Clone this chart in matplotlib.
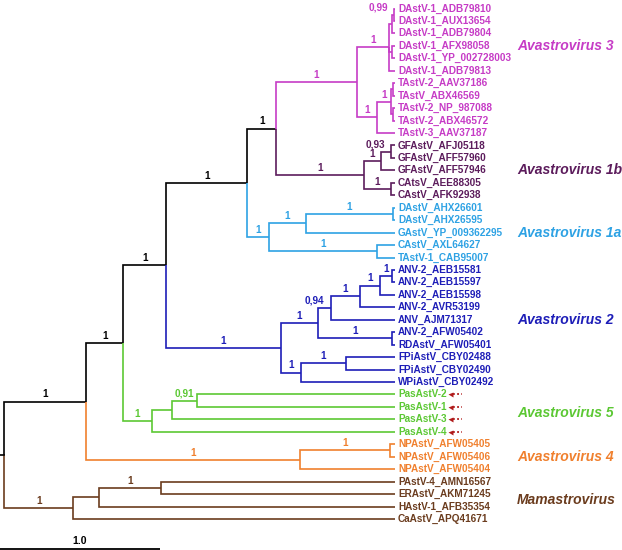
import matplotlib
matplotlib.use("Agg")
import matplotlib.pyplot as plt

plt.rcParams["font.family"] = ["Liberation Sans", "DejaVu Sans"]

# ── tree data (newick, branch lengths in substitutions/site, support as node label) ──
AVA3 = ("((((DAstV-1_ADB79810:0.0084,DAstV-1_AUX13654:0.0084)0.99:0.0076,"
        "DAstV-1_ADB79804:0.016):0.022,(DAstV-1_AFX98058:0.016,"
        "DAstV-1_YP_002728003:0.016):0.022,DAstV-1_ADB79813:0.038)1:0.2,"
        "(((TAstV-2_AAV37186:0.01,TAstV_ABX46569:0.01):0.015,"
        "(TAstV-2_NP_987088:0.01,TAstV-2_ABX46572:0.01):0.015)1:0.09,"
        "TAstV-3_AAV37187:0.115)1:0.123)1:0.506")
AVA1B = ("(((GFAstV_AFJ05118:0.025,GFAstV_AFF57960:0.025)0.93:0.063,"
         "GFAstV_AFF57946:0.088)1:0.106,(CAtsV_AEE88305:0.025,"
         "CAstV_AFK92938:0.025)1:0.169)1:0.55")
AVA1A = ("(((DAstV_AHX26601:0.011,DAstV_AHX26595:0.011)1:0.547,"
         "GAstV_YP_009362295:0.558)1:0.228,(CAstV_AXL64627:0.115,"
         "TAstV-1_CAB95007:0.115)1:0.671)1:0.137")
AVA2 = ("((((((ANV-2_AEB15581:0.021,ANV-2_AEB15597:0.021)1:0.073,"
        "ANV-2_AEB15598:0.094)1:0.125,ANV-2_AVR53199:0.219)1:0.183,"
        "ANV_AJM71317:0.402)0.94:0.081,(ANV-2_AFW05402:0.021,"
        "RDAstV_AFW05401:0.021)1:0.462)1:0.23,((FPiAstV_CBY02488:0.308,"
        "FPiAstV_CBY02490:0.308)1:0.28,WPiAstV_CBY02492:0.588)1:0.125)1:0.7185")
AVA5 = ("(((PasAstV-2:1.236,PasAstV-1:1.236)0.91:0.16,PasAstV-3:1.396):0.125,"
        "PasAstV-4:1.521)1:0.1775")
AVA4 = ("((NPAstV_AFW05405:0.0315,NPAstV_AFW05406:0.0315)1:0.5625,"
        "NPAstV_AFW05404:0.594)1:1.3375")
MAMA = ("(((PAstV-4_AMN16567:1.465,ERAstV_AKM71245:1.465)1:0.385,"
        "HAstV-1_AFB35354:1.85):0.161,CaAstV_APQ41671:2.011)1:0.433")

TREE = (f"(((((({AVA3},{AVA1B})1:0.1794,{AVA1A})1:0.5081,{AVA2})1:0.2669,"
        f"{AVA5})1:0.2331,{AVA4})1:0.5125,{MAMA});")

# clades, in leaf order
CLADE_NAMES = ["Avastrovirus 3", "Avastrovirus 1b", "Avastrovirus 1a",
               "Avastrovirus 2", "Avastrovirus 5", "Avastrovirus 4", "Mamastrovirus"]
CLADE_SIZES = [11, 5, 5, 10, 4, 3, 4]
CLADE_COLORS = ["#c63cc6", "#5c1c5c", "#2ea2e4", "#1e1eb8",
                "#5cc834", "#f0802e", "#6b3c1e"]
# leaves next to which the clade name sits
CLADE_LABEL_AT = [("DAstV-1_AFX98058", "DAstV-1_AFX98058"),
                  ("GFAstV_AFF57946", "GFAstV_AFF57946"),
                  ("GAstV_YP_009362295", "GAstV_YP_009362295"),
                  ("ANV_AJM71317", "ANV_AJM71317"),
                  ("PasAstV-1", "PasAstV-3"),
                  ("NPAstV_AFW05406", "NPAstV_AFW05406"),
                  ("ERAstV_AKM71245", "HAstV-1_AFB35354")]
MARKED = ["PasAstV-2", "PasAstV-1", "PasAstV-3", "PasAstV-4"]
ARROW_COLOR = "#b01a1a"
SCALE_LEN = 1.0

# ── layout constants (pixels) ──
W, H = 622, 550
PX = 160.0       # pixels per unit branch length
X0 = 4.0         # root x
Y0, DY = 8.5, 12.45


def parse_newick(s):
    pos = 0

    def node():
        nonlocal pos
        children = []
        if s[pos] == "(":
            pos += 1
            children.append(node())
            while s[pos] == ",":
                pos += 1
                children.append(node())
            pos += 1
        start = pos
        while s[pos] not in ":,);":
            pos += 1
        label = s[start:pos]
        length = 0.0
        if s[pos] == ":":
            pos += 1
            start = pos
            while s[pos] not in ",);":
                pos += 1
            length = float(s[start:pos])
        return {"label": label, "length": length, "children": children}

    return node()


root = parse_newick(TREE)
leaves = []


def place(nd, x0):
    nd["x"] = x0 + nd["length"]
    if not nd["children"]:
        nd["y"] = len(leaves)
        nd["span"] = (len(leaves), len(leaves))
        leaves.append(nd)
        return
    for c in nd["children"]:
        place(c, nd["x"])
    kids = nd["children"]
    nd["y"] = (kids[0]["y"] + kids[-1]["y"]) / 2
    nd["span"] = (kids[0]["span"][0], kids[-1]["span"][1])


place(root, 0.0)

starts = [sum(CLADE_SIZES[:k]) for k in range(len(CLADE_SIZES))]


def color_of(nd):
    a, b = nd["span"]
    for s0, n, c in zip(starts, CLADE_SIZES, CLADE_COLORS):
        if s0 <= a and b < s0 + n:
            return c
    return "black"


fig = plt.figure(figsize=(W / 100, H / 100), dpi=100)
ax = fig.add_axes([0, 0, 1, 1])
ax.set_xlim(-X0 / PX, (W - X0) / PX)
ax.set_ylim((H - Y0) / DY, -Y0 / DY)
ax.axis("off")
renderer = fig.canvas.get_renderer()

LW = 1.2
edges = []


def walk(nd):
    for c in nd["children"]:
        edges.append((nd, c))
        walk(c)


walk(root)

for par, ch in edges:
    col = color_of(ch)
    ax.plot([par["x"], par["x"], ch["x"]], [par["y"], ch["y"], ch["y"]],
            color=col, lw=LW, solid_joinstyle="miter", solid_capstyle="butt")

ax.plot([-X0 / PX, 0], [root["y"]] * 2, color="black", lw=LW)

# support values above branches
for par, ch in edges:
    if not ch["children"] or not ch["label"]:
        continue
    txt = ch["label"].replace(".", ",")
    col = color_of(ch)
    mid = (par["x"] + ch["x"]) / 2
    t = ax.annotate(txt, (mid, ch["y"]), xytext=(0, 1.6), textcoords="offset points",
                    ha="center", va="bottom", fontsize=7.2, fontweight="bold", color=col)
    width = t.get_window_extent(renderer).width
    if width + 4 > (ch["x"] - par["x"]) * PX:
        t.remove()
        ax.annotate(txt, (ch["x"], ch["y"]), xytext=(-4.3, 1.6), textcoords="offset points",
                    ha="right", va="bottom", fontsize=7.2, fontweight="bold", color=col)

# tip labels
for lf in leaves:
    col = color_of(lf)
    t = ax.annotate(lf["label"], (lf["x"], lf["y"]), xytext=(2.2, 0),
                    textcoords="offset points", ha="left", va="center",
                    fontsize=7.2, fontweight="bold", color=col)
    if lf["label"] in MARKED:
        bb = t.get_window_extent(renderer)
        inv = ax.transData.inverted()
        xh = inv.transform((bb.x1 + 3, 0))[0]
        xd = inv.transform((bb.x1 + 6, 0))[0]
        xt = inv.transform((bb.x1 + 15, 0))[0]
        ax.plot([xd, xt], [lf["y"]] * 2, color=ARROW_COLOR, lw=1.3,
                ls=(0, (1, 1.3)))
        ax.plot([xh], [lf["y"]], marker="<", ms=3.6, color=ARROW_COLOR, mec="none")

# clade names
by_name = {lf["label"]: lf for lf in leaves}
for name, col, (l1, l2) in zip(CLADE_NAMES, CLADE_COLORS, CLADE_LABEL_AT):
    yc = (by_name[l1]["y"] + by_name[l2]["y"]) / 2
    ax.text((517 - X0) / PX, yc, name, ha="left", va="center", fontsize=10,
            fontweight="bold", fontstyle="italic", color=col)

# scale bar
ybar = (549 - Y0) / DY
ax.plot([-X0 / PX, -X0 / PX + SCALE_LEN], [ybar, ybar], color="black", lw=1.3,
        solid_capstyle="butt")
ax.text(-X0 / PX + SCALE_LEN / 2, (541 - Y0) / DY, f"{SCALE_LEN:.1f}",
        ha="center", va="center", fontsize=7.5, fontweight="bold")

fig.savefig("out.png", dpi=100)
